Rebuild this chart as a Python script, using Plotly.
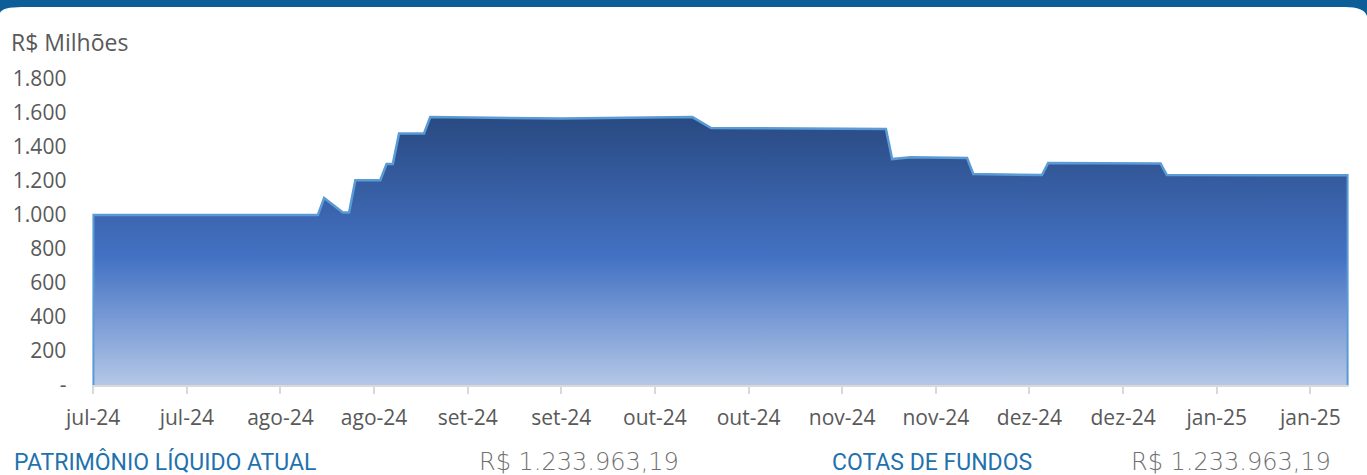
import plotly.graph_objects as go

# ---- data (R$ millions) ----
dates = ["2024-07-10", "2024-08-15", "2024-08-16", "2024-08-19", "2024-08-20",
         "2024-08-21", "2024-08-25", "2024-08-26", "2024-08-27", "2024-08-28",
         "2024-09-01", "2024-09-02", "2024-09-23", "2024-10-14", "2024-10-17",
         "2024-11-14", "2024-11-15", "2024-11-18", "2024-11-27", "2024-11-28",
         "2024-12-09", "2024-12-10", "2024-12-28", "2024-12-29", "2025-01-27"]
values = [1000, 1000, 1100, 1015, 1015,
          1205, 1205, 1300, 1300, 1480,
          1480, 1576, 1568, 1576, 1512,
          1506, 1329, 1340, 1335, 1241,
          1235, 1306, 1303, 1235, 1234]

tick_dates = ["2024-07-10", "2024-07-25", "2024-08-09", "2024-08-24", "2024-09-08",
              "2024-09-23", "2024-10-08", "2024-10-23", "2024-11-07", "2024-11-22",
              "2024-12-07", "2024-12-22", "2025-01-06", "2025-01-21"]
tick_labels = ["jul-24", "jul-24", "ago-24", "ago-24", "set-24", "set-24", "out-24",
               "out-24", "nov-24", "nov-24", "dez-24", "dez-24", "jan-25", "jan-25"]

y_ticks = [0, 200, 400, 600, 800, 1000, 1200, 1400, 1600, 1800]
y_labels = ["-", "200", "400", "600", "800", "1.000", "1.200", "1.400", "1.600", "1.800"]

footer_labels = ["PATRIMÔNIO LÍQUIDO ATUAL", "COTAS DE FUNDOS"]
footer_values = ["R$ 1.233.963,19", "R$ 1.233.963,19"]

W, H = 1367, 475
def px(x):
    return x / W
def py(y):
    return 1 - y / H

# closed outline (edges down to zero at both ends)
xs = [dates[0]] + dates + [dates[-1]]
ys = [0] + values + [0]

fig = go.Figure()
fig.add_trace(go.Scatter(
    x=xs, y=ys, mode="lines", fill="tozeroy",
    line=dict(color="#5b9bd5", width=2.5),
    fillgradient=dict(type="vertical", start=0, stop=max(values),
                      colorscale=[[0, "#b4c7e7"], [0.47, "#4472c4"], [1, "#294a82"]]),
    hoverinfo="skip", showlegend=False,
))

font_family = "Open Sans"
fig.update_layout(
    width=W, height=H,
    margin=dict(l=0, r=0, t=0, b=0),
    paper_bgcolor="white", plot_bgcolor="white",
    xaxis=dict(
        type="date",
        domain=[px(92.4), px(1348.6)],
        range=["2024-07-09 21:00", "2025-01-27 03:00"],
        tickvals=tick_dates, ticktext=tick_labels,
        ticks="outside", ticklen=7, tickcolor="#d9d9d9", tickwidth=1.5,
        showline=True, linecolor="#d9d9d9", linewidth=1.5,
        showgrid=False, zeroline=False,
        tickfont=dict(family=font_family, size=21, color="#595959"),
        ticklabelstandoff=6,
        automargin=False,
    ),
    yaxis=dict(
        domain=[py(385), py(79)],
        range=[0, 1800],
        tickvals=y_ticks, ticktext=y_labels,
        showgrid=False, zeroline=False, showline=False,
        tickfont=dict(family=font_family, size=21, color="#595959"),
        ticklabelstandoff=25,
        automargin=False,
    ),
)

# header band with rounded white card corners
fig.add_shape(type="rect", xref="paper", yref="paper", x0=0, x1=1, y0=py(30), y1=1,
              fillcolor="#0b5e98", line=dict(width=0), layer="below")
path = (f"M {px(0)},{py(40)} L {px(0)},{py(13)} Q {px(2)},{py(7)} {px(22)},{py(7)} "
        f"L {px(1345)},{py(7)} Q {px(1364)},{py(7)} {px(1367)},{py(16)} "
        f"L {px(1367)},{py(40)} Z")
fig.add_shape(type="path", xref="paper", yref="paper", path=path,
              fillcolor="white", line=dict(width=0), layer="below")

# y title
fig.add_annotation(x=px(9), y=py(42), xref="paper", yref="paper", text="R$ Milhões",
                   showarrow=False, xanchor="left", yanchor="middle",
                   font=dict(family=font_family, size=23, color="#595959"))

# footer
lab_font = dict(family="Roboto", size=23, color="#1f72ad")
val_font = dict(family="DejaVu Sans", size=24, color="#707070", weight=300)
fig.add_annotation(x=px(12), y=py(462), xref="paper", yref="paper", text=footer_labels[0],
                   showarrow=False, xanchor="left", yanchor="middle", font=lab_font)
fig.add_annotation(x=px(477), y=py(462), xref="paper", yref="paper", text=footer_values[0],
                   showarrow=False, xanchor="left", yanchor="middle", font=val_font)
fig.add_annotation(x=px(830), y=py(462), xref="paper", yref="paper", text=footer_labels[1],
                   showarrow=False, xanchor="left", yanchor="middle", font=lab_font)
fig.add_annotation(x=px(1129), y=py(462), xref="paper", yref="paper", text=footer_values[1],
                   showarrow=False, xanchor="left", yanchor="middle", font=val_font)

fig.write_html("out.html",
               config={"displayModeBar": False},
               post_script="document.body.style.margin='0px';document.body.style.overflow='hidden';")
